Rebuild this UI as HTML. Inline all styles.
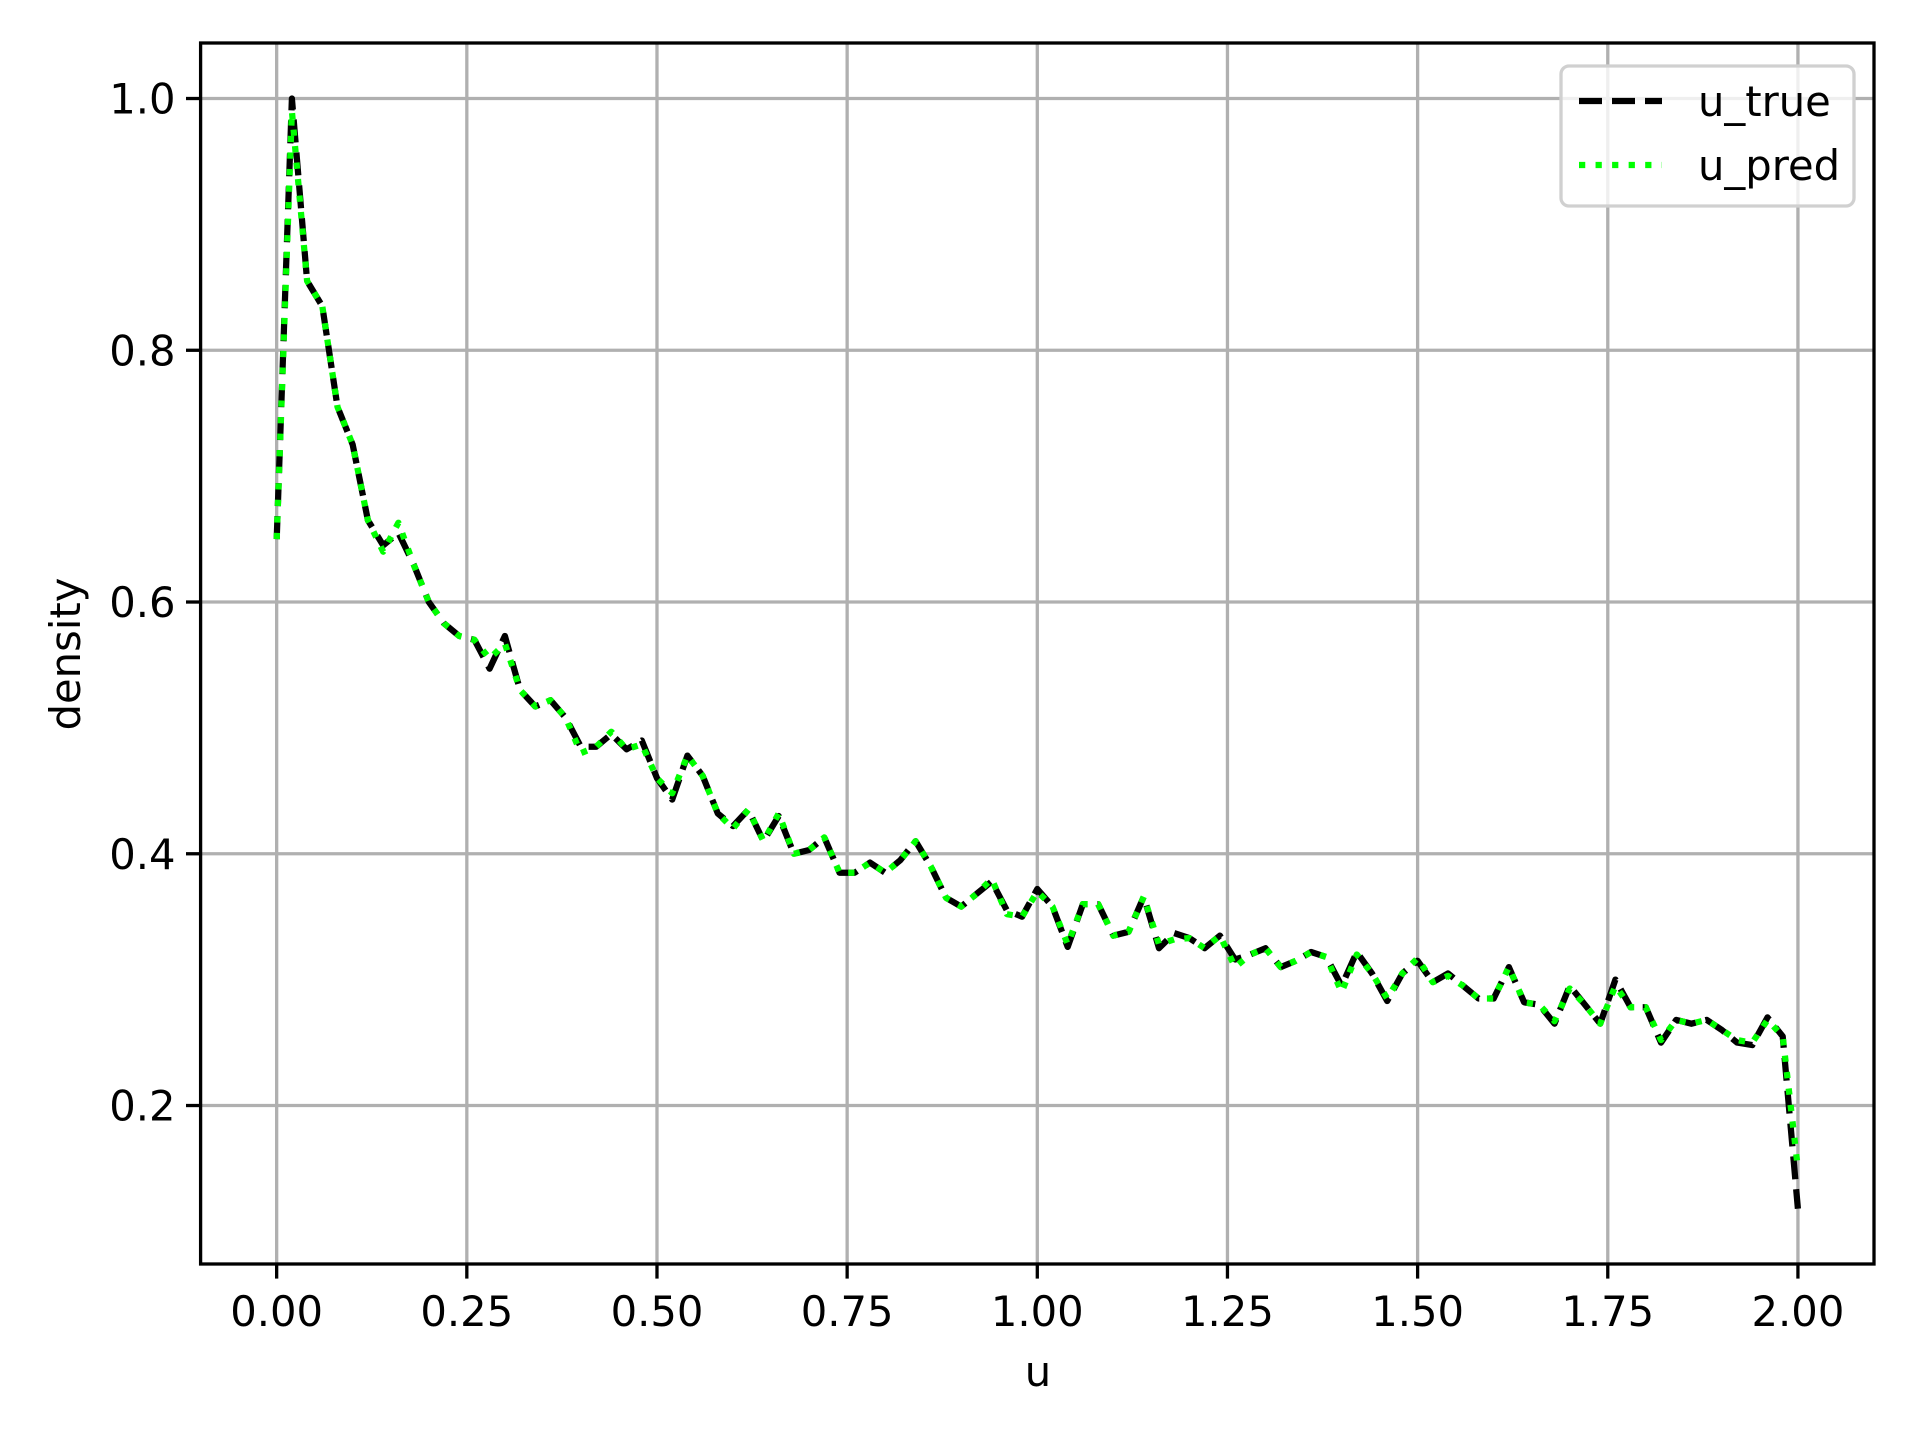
<!DOCTYPE html>
<html><head><meta charset="utf-8"><style>
html,body{margin:0;padding:0;background:#fff;}
svg{display:block;font-family:"DejaVu Sans","Liberation Sans",sans-serif;}
</style></head><body>
<svg id="chart" width="1920" height="1440" viewBox="0 0 1920 1440" xmlns="http://www.w3.org/2000/svg">
<rect width="1920" height="1440" fill="#fff"/>
<g id="grid"></g>
<g id="series"></g>
<rect x="200.6" y="43" width="1673.4" height="1221" fill="none" stroke="#000" stroke-width="3.3"/>
<g id="ticks"></g>
<text x="1038" y="1386" font-size="41.7" text-anchor="middle">u</text>
<text transform="translate(80,654) rotate(-90)" font-size="41.7" text-anchor="middle">density</text>
<g transform="translate(-8,0)">
<rect x="1569" y="66" width="293" height="140" rx="8" fill="#fff" fill-opacity="0.8" stroke="#d0d0d0" stroke-width="3.3"/>
<line x1="1587" y1="101" x2="1670" y2="101" stroke="#000" stroke-width="6.25" stroke-dasharray="23,10"/>
<text x="1706" y="116" font-size="41.7">u_true</text>
<line x1="1587" y1="165" x2="1670" y2="165" stroke="#00ff00" stroke-width="6.25" stroke-dasharray="6.25,10.3"/>
<text x="1706" y="180" font-size="41.7">u_pred</text>
</g>
</svg>
<script>
const uValues = [0,0.02,0.04,0.06,0.08,0.10,0.12,0.14,0.16,0.18,0.20,0.22,0.24,0.26,0.28,0.30,0.32,0.34,0.36,0.38,0.40,0.42,0.44,0.46,0.48,0.50,0.52,0.54,0.56,0.58,0.60,0.62,0.64,0.66,0.68,0.70,0.72,0.74,0.76,0.78,0.80,0.82,0.84,0.86,0.88,0.90,0.92,0.94,0.96,0.98,1.00,1.02,1.04,1.06,1.08,1.10,1.12,1.14,1.16,1.18,1.20,1.22,1.24,1.26,1.28,1.30,1.32,1.34,1.36,1.38,1.40,1.42,1.44,1.46,1.48,1.50,1.52,1.54,1.56,1.58,1.60,1.62,1.64,1.66,1.68,1.70,1.72,1.74,1.76,1.78,1.80,1.82,1.84,1.86,1.88,1.90,1.92,1.94,1.96,1.98,2.00];
const uTrue = [0.65,1.00,0.855,0.835,0.755,0.725,0.665,0.645,0.655,0.63,0.60,0.583,0.573,0.570,0.547,0.573,0.530,0.517,0.522,0.508,0.485,0.485,0.495,0.483,0.49,0.46,0.443,0.478,0.462,0.432,0.422,0.435,0.41,0.43,0.40,0.403,0.413,0.385,0.385,0.393,0.385,0.395,0.41,0.39,0.365,0.358,0.368,0.378,0.355,0.35,0.372,0.358,0.326,0.36,0.36,0.335,0.338,0.366,0.325,0.337,0.333,0.325,0.335,0.316,0.32,0.325,0.31,0.315,0.322,0.318,0.295,0.322,0.305,0.283,0.305,0.315,0.298,0.305,0.295,0.285,0.285,0.31,0.282,0.28,0.265,0.295,0.28,0.265,0.30,0.278,0.278,0.25,0.268,0.265,0.268,0.26,0.25,0.248,0.27,0.255,0.118];
const uPred = [0.65,0.99,0.855,0.835,0.755,0.725,0.665,0.64,0.663,0.63,0.60,0.583,0.573,0.570,0.555,0.567,0.530,0.517,0.522,0.508,0.48,0.485,0.497,0.483,0.487,0.46,0.448,0.478,0.462,0.432,0.42,0.435,0.41,0.432,0.40,0.403,0.413,0.385,0.385,0.393,0.385,0.395,0.41,0.39,0.365,0.358,0.368,0.38,0.352,0.35,0.37,0.358,0.328,0.36,0.36,0.335,0.338,0.366,0.328,0.332,0.333,0.325,0.335,0.31,0.32,0.325,0.31,0.315,0.322,0.318,0.29,0.32,0.305,0.285,0.305,0.317,0.298,0.303,0.295,0.285,0.285,0.31,0.282,0.28,0.267,0.293,0.28,0.265,0.295,0.278,0.278,0.252,0.268,0.265,0.268,0.26,0.252,0.25,0.268,0.255,0.15];
const xTicks = [0,0.25,0.5,0.75,1.0,1.25,1.5,1.75,2.0];
const xTickLabels = ["0.00","0.25","0.50","0.75","1.00","1.25","1.50","1.75","2.00"];
const yTicks = [0.2,0.4,0.6,0.8,1.0];
const yTickLabels = ["0.2","0.4","0.6","0.8","1.0"];

const L=200.6,R=1874,T=43,B=1264;
const xMin=-0.1,xMax=2.1,yMin=0.0741,yMax=1.0441;
function sx(v){return L+(v-xMin)/(xMax-xMin)*(R-L);}
function sy(v){return B-(v-yMin)/(yMax-yMin)*(B-T);}
const NS="http://www.w3.org/2000/svg";
function mk(tag,attrs,parent){const e=document.createElementNS(NS,tag);for(const k in attrs)e.setAttribute(k,attrs[k]);parent.appendChild(e);return e;}
const grid=document.getElementById('grid'),ticks=document.getElementById('ticks'),series=document.getElementById('series');
xTicks.forEach((t,i)=>{
  const g=mk('line',{x1:sx(t),x2:sx(t),y1:T,y2:B,stroke:'#b0b0b0','stroke-width':3.3},grid);
  
  
  const tk=mk('line',{x1:sx(t),x2:sx(t),y1:B,y2:B+14.6,stroke:'#000','stroke-width':3.3},ticks);
  
  
  const tx=mk('text',{x:sx(t),y:B+62,'font-size':41.7,'text-anchor':'middle'},ticks);
  tx.textContent=xTickLabels[i];
  
  
});
yTicks.forEach((t,i)=>{
  const g=mk('line',{x1:L,x2:R,y1:sy(t),y2:sy(t),stroke:'#b0b0b0','stroke-width':3.3},grid);
  
  
  const tk=mk('line',{x1:L-14.6,x2:L,y1:sy(t),y2:sy(t),stroke:'#000','stroke-width':3.3},ticks);
  
  
  const tx=mk('text',{x:L-25,y:sy(t)+15,'font-size':41.7,'text-anchor':'end'},ticks);
  tx.textContent=yTickLabels[i];
  
  
});
function pts(arr){return arr.map((v,i)=>sx(uValues[i]).toFixed(1)+','+sy(v).toFixed(1)).join(' ');}
const lt=mk('polyline',{points:pts(uTrue),fill:'none',stroke:'#000','stroke-width':6.25,'stroke-dasharray':'23,10','stroke-linejoin':'round'},series);


const lp=mk('polyline',{points:pts(uPred),fill:'none',stroke:'#00ff00','stroke-width':6.25,'stroke-dasharray':'6.25,10.3','stroke-linejoin':'round'},series);


</script>
</body></html>
